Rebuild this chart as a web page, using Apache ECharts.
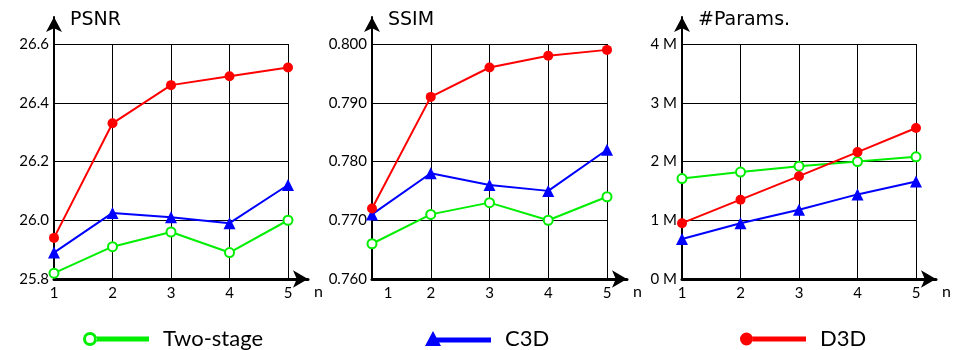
<!DOCTYPE html>
<html>
<head>
<meta charset="utf-8">
<script src="https://cdn.jsdelivr.net/npm/echarts@6/dist/echarts.min.js"></script>
<style>
  html, body { margin: 0; padding: 0; background: #fff; }
  #chart { width: 954px; height: 350px; }
</style>
</head>
<body>
<div id="chart"></div>
<script>
// Number of stages n on the horizontal axis
const nValues = [1, 2, 3, 4, 5];

// PSNR per method
const psnrTwoStage = [25.82, 25.91, 25.96, 25.89, 26.00];
const psnrC3D      = [25.89, 26.025, 26.01, 25.99, 26.12];
const psnrD3D      = [25.94, 26.33, 26.46, 26.49, 26.52];

// SSIM per method
const ssimTwoStage = [0.766, 0.771, 0.773, 0.770, 0.774];
const ssimC3D      = [0.771, 0.778, 0.776, 0.775, 0.782];
const ssimD3D      = [0.772, 0.791, 0.796, 0.798, 0.799];

// Parameter count (millions) per method
const paramsTwoStage = [1.71, 1.82, 1.92, 2.00, 2.08];
const paramsC3D      = [0.68, 0.95, 1.18, 1.44, 1.66];
const paramsD3D      = [0.95, 1.35, 1.75, 2.16, 2.57];

const panelTitles = ['PSNR', 'SSIM', '#Params.'];
const methodNames = ['Two-stage', 'C3D', 'D3D'];

const FONT = 'Lato';
const TITLE_FONT = 'DejaVu Sans';
const GREEN = '#00ee00', BLUE = '#0000ff', RED = '#ff0000';

// panel geometry
const panels = [
  { left: 54,  width: 234 },
  { left: 372, width: 235 },
  { left: 682, width: 234 }
];
const plotTop = 44, plotHeight = 235;
const arrowTop = 17, arrowExtra = 20;

const yScales = [
  { min: 25.8, max: 26.6, interval: 0.2, fmt: v => v.toFixed(1) },
  { min: 0.76, max: 0.80, interval: 0.01, fmt: v => v.toFixed(3) },
  { min: 0,    max: 4,    interval: 1,    fmt: v => Math.round(v) + ' M' }
];

const panelData = [
  [psnrTwoStage, psnrC3D, psnrD3D],
  [ssimTwoStage, ssimC3D, ssimD3D],
  [paramsTwoStage, paramsC3D, paramsD3D]
];

const grids = [], xAxes = [], yAxes = [], series = [], titles = [];

panels.forEach((p, i) => {
  // plotting area
  grids.push({ left: p.left, top: plotTop, width: p.width, height: plotHeight });
  // wider frame used only for the arrowed axes
  grids.push({ left: p.left, top: arrowTop, width: p.width + arrowExtra,
               height: plotTop + plotHeight - arrowTop });
  const gPlot = i * 2, gArrow = i * 2 + 1;

  xAxes.push({
    type: 'value', gridIndex: gPlot, min: 1, max: 5, interval: 1,
    axisLine: { show: false }, axisTick: { show: false },
    splitLine: { show: true, lineStyle: { color: '#000', width: 1 } },
    axisLabel: {
      color: '#000', fontFamily: FONT, fontSize: 15, margin: 7,
      formatter: v => (i === 1 && v === 1) ? '{s|1}' : String(v),
      rich: { s: { padding: [0, 0, 0, 32], fontFamily: FONT, fontSize: 15, color: '#000' } }
    }
  });
  yAxes.push({
    type: 'value', gridIndex: gPlot,
    min: yScales[i].min, max: yScales[i].max, interval: yScales[i].interval,
    axisLine: { show: false }, axisTick: { show: false },
    splitLine: { show: true, lineStyle: { color: '#000', width: 1 } },
    axisLabel: { color: '#000', fontFamily: FONT, fontSize: 15, margin: 5,
                 formatter: yScales[i].fmt }
  });

  xAxes.push({
    type: 'value', gridIndex: gArrow, min: 0, max: 1,
    axisLine: { show: true, symbol: ['none', 'arrow'], symbolSize: [13, 15],
                lineStyle: { color: '#000', width: 3 } },
    axisTick: { show: false }, axisLabel: { show: false }, splitLine: { show: false },
    name: 'n', nameLocation: 'end', nameGap: 6,
    nameTextStyle: { color: '#000', fontFamily: FONT, fontSize: 16,
                     verticalAlign: 'top', padding: [5, 0, 0, 0] }
  });
  yAxes.push({
    type: 'value', gridIndex: gArrow, min: 0, max: 1,
    axisLine: { show: true, symbol: ['none', 'arrow'], symbolSize: [12, 15],
                lineStyle: { color: '#000', width: 2 } },
    axisTick: { show: false }, axisLabel: { show: false }, splitLine: { show: false }
  });

  titles.push({
    text: panelTitles[i], left: p.left + 16, top: 11, padding: 0,
    textStyle: { fontFamily: TITLE_FONT, fontSize: 19, fontWeight: 'normal', color: '#000' }
  });

  const axisIdx = i * 2;
  const [ts, c3, d3] = panelData[i];
  series.push({
    name: methodNames[0], type: 'line', xAxisIndex: axisIdx, yAxisIndex: axisIdx,
    data: nValues.map((n, k) => [n, ts[k]]),
    symbol: 'emptyCircle', symbolSize: 9,
    lineStyle: { color: GREEN, width: 2 },
    itemStyle: { color: GREEN, borderWidth: 1.5 }
  });
  series.push({
    name: methodNames[1], type: 'line', xAxisIndex: axisIdx, yAxisIndex: axisIdx,
    data: nValues.map((n, k) => [n, c3[k]]),
    symbol: 'triangle', symbolSize: 12,
    lineStyle: { color: BLUE, width: 2 },
    itemStyle: { color: BLUE }
  });
  series.push({
    name: methodNames[2], type: 'line', xAxisIndex: axisIdx, yAxisIndex: axisIdx,
    data: nValues.map((n, k) => [n, d3[k]]),
    symbol: 'circle', symbolSize: 10,
    lineStyle: { color: RED, width: 2 },
    itemStyle: { color: RED }
  });
});

// legend keys: marker at the left end of a short line
const iconTwoStage = 'path://M0,7A7,7,0,1,0,14,7A7,7,0,1,0,0,7ZM3,7A4,4,0,1,1,11,7A4,4,0,1,1,3,7ZM13.5,4.6L66,4.6L66,9.4L13.5,9.4Z';
const iconC3D = 'path://M0,15L8,0L16,15ZM8,6.6L66,6.6L66,11.4L8,11.4Z';
const iconD3D = 'path://M0,7A6.5,6.5,0,1,0,13,7A6.5,6.5,0,1,0,0,7ZM12.8,4.6L66,4.6L66,9.4L12.8,9.4Z';

function legendAt(left, name, icon, color, h) {
  return {
    left: left, top: 335 - h / 2, padding: 0, itemWidth: 66, itemHeight: h,
    selectedMode: false,
    textStyle: { fontFamily: FONT, fontSize: 22, color: '#000', padding: [0, 0, 0, 9] },
    data: [{ name: name, icon: icon, itemStyle: { color: color, borderWidth: 0 } }]
  };
}

const option = {
  animation: false,
  backgroundColor: '#fff',
  title: titles,
  grid: grids,
  xAxis: xAxes,
  yAxis: yAxes,
  legend: [
    legendAt(83, methodNames[0], iconTwoStage, GREEN, 14),
    legendAt(425, methodNames[1], iconC3D, BLUE, 15),
    legendAt(740, methodNames[2], iconD3D, RED, 14)
  ],
  series: series
};

const chart = echarts.init(document.getElementById('chart'), null, { renderer: 'canvas' });
chart.setOption(option);
</script>
</body>
</html>
